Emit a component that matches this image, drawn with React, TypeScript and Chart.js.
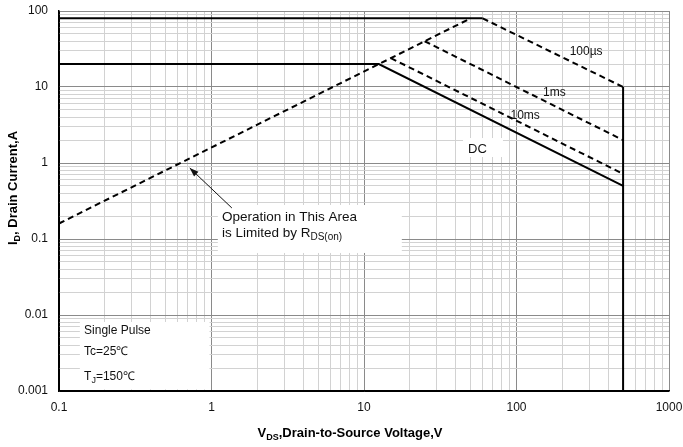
import React, { useEffect, useRef } from "react";
import { Chart, registerables } from "chart.js";

Chart.register(...registerables);

// ---- axis decades (tick labels) ----
const xDecades = [0.1, 1, 10, 100, 1000];
const yDecades = [0.001, 0.01, 0.1, 1, 10, 100];
const xTickLabels = ["0.1", "1", "10", "100", "1000"];
const yTickLabels = ["0.001", "0.01", "0.1", "1", "10", "100"];

// ---- SOA boundary series (V in volts, I in amps) ----
const packageLimitV = [0.1, 60];
const packageLimitI = [80, 80];
const rdsOnV = [0.1, 50];
const rdsOnI = [0.16, 80];
const pulse100usV = [60, 500];
const pulse100usI = [80, 10];
const pulse1msV = [25, 500];
const pulse1msI = [40, 2];
const pulse10msV = [15, 500];
const pulse10msI = [24, 0.72];
const dcV = [0.1, 12.5, 500];
const dcI = [20, 20, 0.5];
const vdsMaxV = [500, 500];
const vdsMaxI = [10, 0.001];

// ---- curve labels (data positions) ----
const curveLabels = ["100µs", "1ms", "10ms", "DC"];
const curveLabelV = [286, 177, 114, 55.5];
const curveLabelI = [28.9, 8.3, 4.15, 1.53];

const FAM = '"Liberation Sans", Arial, sans-serif';

function toPts(vs: number[], is: number[]) {
  return vs.map((v, k) => ({ x: v, y: is[k] }));
}

function minorTicks(decades: number[]) {
  const out: number[] = [];
  for (let k = 0; k < decades.length - 1; k++) {
    for (let m = 1; m <= 9; m++) out.push(decades[k] * m);
  }
  out.push(decades[decades.length - 1]);
  return out;
}

function isIn(v: number, list: number[]) {
  return list.some((d) => Math.abs(v - d) / d < 1e-6);
}

function labelFor(v: number, list: number[], labels: string[]) {
  const i = list.findIndex((d) => Math.abs(v - d) / d < 1e-6);
  return i >= 0 ? labels[i] : "";
}

type Part = [string, boolean];

function drawRich(
  ctx: CanvasRenderingContext2D,
  parts: Part[],
  x: number,
  y: number,
  size: number,
  weight: string,
  align: "left" | "center"
) {
  const main = `${weight} ${size}px ${FAM}`;
  const sub = `${weight} ${Math.round(size * 0.72)}px ${FAM}`;
  const widths = parts.map(([t, s]) => {
    ctx.font = s ? sub : main;
    return ctx.measureText(t).width;
  });
  const total = widths.reduce((a, b) => a + b, 0);
  let cx = align === "center" ? x - total / 2 : x;
  ctx.textBaseline = "middle";
  ctx.textAlign = "left";
  parts.forEach(([t, s], k) => {
    ctx.font = s ? sub : main;
    ctx.fillText(t, cx, s ? y + size * 0.32 : y);
    cx += widths[k];
  });
}

const overlayPlugin = {
  id: "soaOverlay",
  beforeDatasetsDraw(chart: any) {
    const { ctx, scales } = chart;
    const X = (v: number) => scales.x.getPixelForValue(v);
    const Y = (v: number) => scales.y.getPixelForValue(v);
    ctx.save();
    ctx.fillStyle = "#ffffff";
    const boxes = [
      [1.1, 17.7, 0.28, 0.0655],
      [0.137, 0.97, 0.0081, 0.00105],
      [44.6, 81.5, 2.13, 1.2],
    ];
    boxes.forEach(([v0, v1, i0, i1]) => {
      ctx.fillRect(X(v0), Y(i0), X(v1) - X(v0), Y(i1) - Y(i0));
    });
    ctx.restore();
  },
  afterDatasetsDraw(chart: any) {
    const { ctx, scales } = chart;
    const X = (v: number) => scales.x.getPixelForValue(v);
    const Y = (v: number) => scales.y.getPixelForValue(v);
    ctx.save();
    ctx.fillStyle = "#111";

    // curve labels
    ctx.textAlign = "center";
    ctx.textBaseline = "middle";
    curveLabels.forEach((t, k) => {
      ctx.font = t === "DC" ? `13px ${FAM}` : `12px ${FAM}`;
      ctx.fillText(t, X(curveLabelV[k]), Y(curveLabelI[k]));
    });

    // annotation text
    drawRich(ctx, [["Operation in This Area", false]], X(1.17), Y(0.195), 13.5, "normal", "left");
    drawRich(
      ctx,
      [
        ["is Limited by R", false],
        ["DS(on)", true],
      ],
      X(1.17),
      Y(0.12),
      13.5,
      "normal",
      "left"
    );

    // arrow
    const tx = X(0.72), ty = Y(0.86);
    const sx = X(1.36), sy = Y(0.256);
    ctx.strokeStyle = "#111";
    ctx.lineWidth = 1;
    ctx.beginPath();
    ctx.moveTo(sx, sy);
    ctx.lineTo(tx, ty);
    ctx.stroke();
    const ang = Math.atan2(ty - sy, tx - sx);
    const L = 9, W = 3.2;
    ctx.beginPath();
    ctx.moveTo(tx, ty);
    ctx.lineTo(tx - L * Math.cos(ang) + W * Math.sin(ang), ty - L * Math.sin(ang) - W * Math.cos(ang));
    ctx.lineTo(tx - L * Math.cos(ang) - W * Math.sin(ang), ty - L * Math.sin(ang) + W * Math.cos(ang));
    ctx.closePath();
    ctx.fill();

    // conditions
    drawRich(ctx, [["Single Pulse", false]], X(0.146), Y(0.0062), 12, "normal", "left");
    drawRich(ctx, [["Tc=25℃", false]], X(0.146), Y(0.00326), 12, "normal", "left");
    drawRich(
      ctx,
      [
        ["T", false],
        ["J", true],
        ["=150℃", false],
      ],
      X(0.146),
      Y(0.00153),
      12,
      "normal",
      "left"
    );

    // axis titles
    ctx.fillStyle = "#000";
    drawRich(
      ctx,
      [
        ["V", false],
        ["DS", true],
        [",Drain-to-Source Voltage,V", false],
      ],
      350,
      433,
      13,
      "bold",
      "center"
    );
    ctx.translate(13, 188);
    ctx.rotate(-Math.PI / 2);
    drawRich(
      ctx,
      [
        ["I", false],
        ["D", true],
        [", Drain Current,A", false],
      ],
      0,
      0,
      13,
      "bold",
      "center"
    );
    ctx.restore();
  },
};

function zeroPad(s: any) {
  s.paddingLeft = 0;
  s.paddingRight = 0;
  s.paddingTop = 0;
  s.paddingBottom = 0;
}

export default function App() {
  const ref = useRef<HTMLCanvasElement | null>(null);

  useEffect(() => {
    if (!ref.current) return;
    const xAll = minorTicks(xDecades);
    const yAll = minorTicks(yDecades);
    const solid = { borderColor: "#000", borderWidth: 2, pointRadius: 0, fill: false, tension: 0 };
    const dashed = { ...solid, borderDash: [6, 4] };
    const chart = new Chart(ref.current, {
      type: "line",
      data: {
        datasets: [
          { label: "80A", data: toPts(packageLimitV, packageLimitI), ...solid },
          { label: "RDS(on)", data: toPts(rdsOnV, rdsOnI), ...dashed },
          { label: "100us", data: toPts(pulse100usV, pulse100usI), ...dashed },
          { label: "1ms", data: toPts(pulse1msV, pulse1msI), ...dashed },
          { label: "10ms", data: toPts(pulse10msV, pulse10msI), ...dashed },
          { label: "DC", data: toPts(dcV, dcI), ...solid },
          { label: "VDSmax", data: toPts(vdsMaxV, vdsMaxI), ...solid },
        ] as any,
      },
      options: {
        animation: false,
        responsive: false,
        events: [],
        layout: { padding: { top: 11, right: 14, left: 0, bottom: 0 } },
        plugins: { legend: { display: false }, tooltip: { enabled: false }, title: { display: false } },
        scales: {
          x: {
            type: "logarithmic",
            min: 0.1,
            max: 1000,
            afterBuildTicks: (s: any) => {
              s.ticks = xAll.map((v) => ({ value: v }));
            },
            afterFit: (s: any) => {
              s.height = 56;
              zeroPad(s);
            },
            ticks: {
              autoSkip: false,
              maxRotation: 0,
              padding: 9,
              color: "#111",
              font: { family: FAM, size: 12 },
              callback: (v: any) => labelFor(Number(v), xDecades, xTickLabels),
            },
            grid: {
              drawTicks: false,
              lineWidth: 1,
              color: (c: any) => {
                const v = c.tick ? c.tick.value : 0;
                if (Math.abs(v - 0.1) < 1e-9) return "#000";
                return isIn(v, xDecades) ? "#8a8a8a" : "#d2d2d2";
              },
            },
            border: { color: "#000", width: 1.5 },
          },
          y: {
            type: "logarithmic",
            min: 0.001,
            max: 100,
            afterBuildTicks: (s: any) => {
              s.ticks = yAll.map((v) => ({ value: v }));
            },
            afterFit: (s: any) => {
              s.width = 59;
              zeroPad(s);
            },
            ticks: {
              autoSkip: false,
              padding: 11,
              color: "#111",
              font: { family: FAM, size: 12 },
              callback: (v: any) => labelFor(Number(v), yDecades, yTickLabels),
            },
            grid: {
              drawTicks: false,
              lineWidth: 1,
              color: (c: any) => {
                const v = c.tick ? c.tick.value : 0;
                if (Math.abs(v - 0.001) < 1e-12) return "#000";
                return isIn(v, yDecades) ? "#8a8a8a" : "#d2d2d2";
              },
            },
            border: { color: "#000", width: 1.5 },
          },
        },
      } as any,
      plugins: [overlayPlugin],
    });
    return () => chart.destroy();
  }, []);

  return (
    <div style={{ position: "absolute", left: 0, top: 0, width: 683, height: 447, background: "#fff" }}>
      <canvas ref={ref} width={683} height={447} style={{ display: "block" }} />
    </div>
  );
}
